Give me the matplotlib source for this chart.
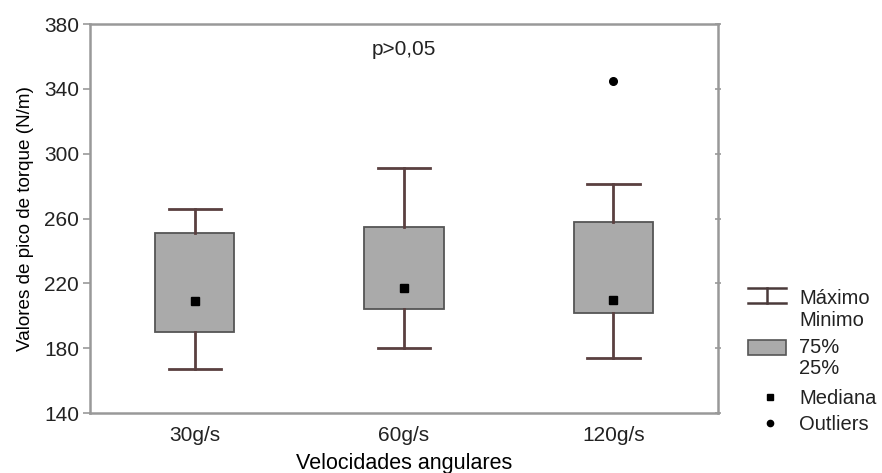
import matplotlib
matplotlib.use("Agg")
import matplotlib.pyplot as plt
from matplotlib.patches import Rectangle
from matplotlib.lines import Line2D

plt.rcParams['font.family'] = ['Liberation Sans', 'DejaVu Sans']
plt.rcParams['text.color'] = '#222222'

# valores
categorias = ['30g/s', '60g/s', '120g/s']
maximos = [266, 291, 281]
q75 = [251, 255, 258]
medianas = [209, 217, 210]
q25 = [190, 204, 202]
minimos = [167, 180, 174]
outliers = [[], [], [345]]

fig = plt.figure(figsize=(8.82, 4.73), dpi=100)
ax = fig.add_axes([90/882, 1 - 413/473, 628/882, 389/473])

stats = []
for i in range(len(categorias)):
    stats.append(dict(med=medianas[i], q1=q25[i], q3=q75[i],
                      whislo=minimos[i], whishi=maximos[i],
                      fliers=outliers[i], label=categorias[i]))

pos = list(range(1, len(categorias) + 1))
ax.bxp(stats, positions=pos, widths=0.38, patch_artist=True,
       boxprops=dict(facecolor='#aaaaaa', edgecolor='#555555', linewidth=1.3),
       whiskerprops=dict(color='#5a4040', linewidth=2),
       capprops=dict(color='#5a4040', linewidth=2),
       capwidths=0.25,
       medianprops=dict(linestyle='none'),
       flierprops=dict(marker='o', markerfacecolor='black', markeredgecolor='black', markersize=5.5))
ax.plot(pos, medianas, 's', color='black', markersize=6, zorder=5)

ax.set_xlim(0.5, 3.5)
ax.set_ylim(140, 380)
ax.set_yticks(range(140, 381, 40))
ax.set_xticks(pos)
ax.set_xticklabels(categorias)
ax.tick_params(axis='x', length=0, labelsize=15, pad=9, labelcolor='#222222')
ax.tick_params(axis='y', length=5, width=1.2, color='#999999', labelsize=15, pad=3, labelcolor='#222222')
for s in ax.spines.values():
    s.set_color('#999999')
    s.set_linewidth(1.8)

# marcas pequenas en el eje derecho
ax2 = ax.twinx()
ax2.set_ylim(ax.get_ylim())
ax2.set_yticks(range(140, 381, 40))
ax2.tick_params(axis='y', direction='inout', length=4, width=1.2, color='#999999', labelright=False)
for s in ax2.spines.values():
    s.set_visible(False)

ax.set_xlabel('Velocidades angulares', fontsize=15.5, labelpad=6)
ax.set_ylabel('Valores de pico de torque (N/m)', fontsize=13.6, labelpad=7)
ax.text(0.5, 0.935, 'p>0,05', transform=ax.transAxes, ha='center', va='center', fontsize=15)

# leyenda dibujada a mano
lg = fig.add_axes([740/882, 1 - 440/473, 142/882, 170/473])
lg.set_xlim(0, 142)
lg.set_ylim(170, 0)
lg.axis('off')
c = '#4a3a3a'
lg.add_line(Line2D([8, 46], [18, 18], color=c, lw=1.8))
lg.add_line(Line2D([8, 46], [33, 33], color=c, lw=1.8))
lg.add_line(Line2D([27, 27], [18, 33], color=c, lw=1.8))
lg.text(59, 28, 'Máximo', fontsize=14.5, va='center')
lg.text(59, 50, 'Minimo', fontsize=14.5, va='center')
lg.add_patch(Rectangle((8, 70), 38, 15, facecolor='#aaaaaa', edgecolor='#555555', lw=1.2))
lg.text(59, 77, '75%', fontsize=14.5, va='center')
lg.text(59, 98, '25%', fontsize=14.5, va='center')
lg.plot([30], [127], 's', color='black', markersize=5)
lg.text(59, 128, 'Mediana', fontsize=14.5, va='center')
lg.plot([30], [153], 'o', color='black', markersize=4.5)
lg.text(59, 154, 'Outliers', fontsize=14.5, va='center')

fig.savefig('out.png', dpi=100)
